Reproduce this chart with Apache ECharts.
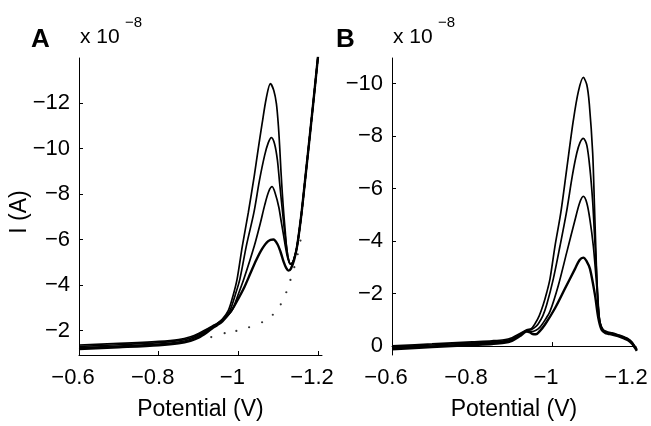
<!DOCTYPE html>
<html><head><meta charset="utf-8">
<script src="https://cdn.jsdelivr.net/npm/echarts@6/dist/echarts.min.js"></script>
<style>html,body{margin:0;padding:0;background:#fff}#c{width:651px;height:426px}</style>
</head><body><div id="c"></div>
<script>
// ---- tick values ----
const xTicks = [-0.6, -0.8, -1, -1.2];
const yTicksA = [-12, -10, -8, -6, -4, -2];
const yTicksB = [-10, -8, -6, -4, -2, 0];

// ---- Panel A (x 1e-8 A) ----
const aCurve1 = [[-0.6,-1.36],[-0.7,-1.43],[-0.8,-1.52],[-0.85,-1.6],[-0.88,-1.72],[-0.9,-1.86],[-0.92,-2.05],[-0.935,-2.2],[-0.946,-2.3],[-0.96,-2.5],[-0.975,-2.88],[-0.987,-3.55],[-0.997,-4.27],[-1.01,-5.71],[-1.025,-7.18],[-1.04,-8.8],[-1.05,-10.0],[-1.0596,-11.09],[-1.07,-12.2],[-1.0805,-12.85],[-1.089,-12.55],[-1.0956,-11.96],[-1.1005,-11.0],[-1.104,-10.0],[-1.107,-9.0],[-1.1105,-8.0],[-1.114,-7.14],[-1.1175,-6.4],[-1.1208,-5.71],[-1.1255,-5.15],[-1.131,-4.92],[-1.136,-4.98],[-1.14,-5.15],[-1.1475,-5.71],[-1.1585,-7.14],[-1.1675,-8.6],[-1.176,-10.0],[-1.188,-12.0],[-1.2,-14.05]];
const aCurve2 = [[-0.6,-1.30],[-0.7,-1.37],[-0.8,-1.46],[-0.85,-1.55],[-0.88,-1.66],[-0.9,-1.8],[-0.92,-2.0],[-0.935,-2.17],[-0.946,-2.29],[-0.962,-2.5],[-0.979,-2.88],[-0.992,-3.55],[-1.004,-4.27],[-1.02,-5.71],[-1.039,-7.18],[-1.053,-8.6],[-1.066,-9.7],[-1.075,-10.25],[-1.083,-10.48],[-1.091,-10.2],[-1.098,-9.5],[-1.103,-8.6],[-1.1075,-7.8],[-1.111,-7.2],[-1.1145,-6.6],[-1.118,-6.1],[-1.1215,-5.6],[-1.1255,-5.15],[-1.131,-4.92],[-1.136,-4.98],[-1.14,-5.15],[-1.1475,-5.71],[-1.1585,-7.14],[-1.1675,-8.6],[-1.176,-10.0],[-1.188,-12.0],[-1.2,-14.05]];
const aCurve3 = [[-0.6,-1.24],[-0.7,-1.31],[-0.8,-1.40],[-0.85,-1.49],[-0.88,-1.6],[-0.9,-1.74],[-0.92,-1.96],[-0.935,-2.14],[-0.946,-2.27],[-0.964,-2.5],[-0.984,-2.88],[-0.999,-3.55],[-1.014,-4.27],[-1.04,-5.71],[-1.055,-6.7],[-1.066,-7.5],[-1.076,-8.1],[-1.0848,-8.32],[-1.093,-8.0],[-1.1015,-7.43],[-1.108,-6.75],[-1.114,-6.14],[-1.1185,-5.65],[-1.1245,-5.15],[-1.131,-4.92],[-1.136,-4.98],[-1.14,-5.15],[-1.1475,-5.71],[-1.1585,-7.14],[-1.1675,-8.6],[-1.176,-10.0],[-1.188,-12.0],[-1.2,-14.05]];
const aCurve4 = [[-0.6,-1.18],[-0.7,-1.26],[-0.8,-1.35],[-0.85,-1.43],[-0.88,-1.54],[-0.9,-1.68],[-0.92,-1.9],[-0.935,-2.1],[-0.946,-2.22],[-0.96,-2.4],[-0.983,-2.88],[-1.0,-3.4],[-1.015,-3.9],[-1.03,-4.5],[-1.045,-5.1],[-1.06,-5.6],[-1.075,-5.93],[-1.088,-6.0],[-1.098,-5.8],[-1.106,-5.45],[-1.114,-5.0],[-1.12,-4.75],[-1.126,-4.63],[-1.132,-4.72],[-1.14,-5.1],[-1.1475,-5.71],[-1.1585,-7.14],[-1.1675,-8.6],[-1.176,-10.0],[-1.188,-12.0],[-1.2,-14.05]];
const aBlank = [[-0.932,-1.71],[-0.9656,-1.88],[-0.995,-1.98],[-1.027,-2.14],[-1.0596,-2.36],[-1.0865,-2.69],[-1.1065,-3.15],[-1.1204,-3.68],[-1.1308,-4.22],[-1.1405,-4.78],[-1.149,-5.35],[-1.156,-5.95]];

// ---- Panel B (x 1e-8 A) ----
const bCurve1 = [[-0.6,-0.01],[-0.7,-0.08],[-0.8,-0.16],[-0.85,-0.2],[-0.88,-0.24],[-0.9,-0.32],[-0.92,-0.48],[-0.937,-0.62],[-0.948,-0.66],[-0.9575,-0.85],[-0.968,-1.15],[-0.978,-1.57],[-0.987,-2.05],[-0.995,-2.56],[-1.0075,-3.81],[-1.022,-5.08],[-1.0367,-6.73],[-1.0533,-8.59],[-1.066,-9.7],[-1.0783,-10.23],[-1.087,-9.95],[-1.0933,-9.22],[-1.1017,-7.35],[-1.106,-5.4],[-1.11,-3.5],[-1.1125,-2.4],[-1.116,-1.4],[-1.12,-0.9],[-1.128,-0.62],[-1.14,-0.53],[-1.15,-0.5],[-1.16,-0.46],[-1.17,-0.41],[-1.18,-0.35],[-1.19,-0.28],[-1.2,-0.15],[-1.207,0.0],[-1.212,0.12]];
const bCurve2 = [[-0.6,0.04],[-0.7,-0.04],[-0.8,-0.12],[-0.85,-0.16],[-0.88,-0.2],[-0.9,-0.28],[-0.92,-0.45],[-0.937,-0.6],[-0.948,-0.62],[-0.96,-0.75],[-0.9658,-0.85],[-0.977,-1.15],[-0.9867,-1.57],[-1.0033,-2.56],[-1.02,-3.81],[-1.036,-5.08],[-1.051,-6.5],[-1.062,-7.35],[-1.07,-7.75],[-1.0783,-7.91],[-1.087,-7.65],[-1.095,-6.73],[-1.1017,-5.5],[-1.106,-4.3],[-1.11,-3.2],[-1.113,-2.3],[-1.1165,-1.4],[-1.12,-0.9],[-1.128,-0.6],[-1.14,-0.5],[-1.15,-0.48],[-1.16,-0.44],[-1.17,-0.39],[-1.18,-0.33],[-1.19,-0.26],[-1.2,-0.13],[-1.207,0.02],[-1.212,0.14]];
const bCurve3 = [[-0.6,0.08],[-0.7,0.0],[-0.8,-0.08],[-0.85,-0.12],[-0.88,-0.16],[-0.9,-0.24],[-0.92,-0.42],[-0.937,-0.58],[-0.949,-0.55],[-0.96,-0.6],[-0.97,-0.72],[-0.982,-0.98],[-0.995,-1.32],[-1.0158,-2.31],[-1.0367,-3.56],[-1.0575,-4.80],[-1.069,-5.45],[-1.0783,-5.70],[-1.087,-5.45],[-1.095,-4.80],[-1.1033,-3.81],[-1.1117,-2.31],[-1.1175,-1.15],[-1.122,-0.75],[-1.128,-0.58],[-1.14,-0.48],[-1.15,-0.46],[-1.16,-0.42],[-1.17,-0.37],[-1.18,-0.31],[-1.19,-0.24],[-1.2,-0.11],[-1.207,0.04],[-1.212,0.16]];
const bCurve4 = [[-0.6,0.12],[-0.7,0.04],[-0.8,-0.04],[-0.85,-0.08],[-0.88,-0.12],[-0.9,-0.2],[-0.92,-0.38],[-0.937,-0.55],[-0.945,-0.52],[-0.952,-0.46],[-0.96,-0.45],[-0.97,-0.58],[-0.9825,-0.82],[-1.0075,-1.44],[-1.0325,-2.19],[-1.0575,-2.94],[-1.069,-3.28],[-1.0783,-3.37],[-1.087,-3.22],[-1.095,-2.94],[-1.1075,-1.94],[-1.1158,-1.07],[-1.124,-0.62],[-1.133,-0.5],[-1.14,-0.47],[-1.15,-0.44],[-1.16,-0.4],[-1.17,-0.35],[-1.18,-0.29],[-1.19,-0.22],[-1.2,-0.09],[-1.207,0.06],[-1.212,0.18]];

const FONT = 'Liberation Sans, Arial, Helvetica, sans-serif';
const fmt = v => { const r = Math.round(v * 10) / 10; return r === 0 ? '0' : (r < 0 ? '\u2212' : '') + String(Math.abs(r)); };

function xAxisDef(grid) {
  return {
    type: 'value', gridIndex: grid, min: -1.21, max: -0.6, inverse: true,
    name: 'Potential (V)', nameLocation: 'middle', nameGap: 43,
    nameTextStyle: { fontFamily: FONT, fontSize: 23, color: '#000' },
    axisLine: { show: true, lineStyle: { color: '#000', width: 1 } },
    axisTick: { show: true, inside: true, length: 4, lineStyle: { color: '#000' }, customValues: xTicks },
    axisLabel: { show: true, customValues: xTicks, formatter: fmt, margin: 12, padding: [0, 12, 0, 0],
      fontFamily: FONT, fontSize: 22, color: '#000' },
    splitLine: { show: false }
  };
}
function yAxisDef(grid, min, max, ticks) {
  return {
    type: 'value', gridIndex: grid, min: min, max: max, inverse: true,
    axisLine: { show: true, lineStyle: { color: '#000', width: 1 } },
    axisTick: { show: true, inside: true, length: 4, lineStyle: { color: '#000' }, customValues: ticks },
    axisLabel: { show: true, customValues: ticks, formatter: fmt, margin: 9,
      fontFamily: FONT, fontSize: 22, color: '#000' },
    splitLine: { show: false }
  };
}
function line(data, xi, w) {
  return { type: 'line', data: data, xAxisIndex: xi, yAxisIndex: xi, showSymbol: false, symbol: 'none',
    smooth: 0.3, lineStyle: { color: '#000', width: w }, silent: true, z: 3 };
}

const chart = echarts.init(document.getElementById('c'), null, { renderer: 'canvas' });
chart.setOption({
  animation: false,
  backgroundColor: '#fff',
  grid: [
    { left: 79, top: 58, width: 243, height: 303 },
    { left: 392, top: 58, width: 244, height: 303 }
  ],
  xAxis: [xAxisDef(0), xAxisDef(1)],
  yAxis: [yAxisDef(0, -13.98, -0.92, yTicksA), yAxisDef(1, -10.97, 0.34, yTicksB)],
  series: [
    line(aCurve1, 0, 1.7), line(aCurve2, 0, 1.7), line(aCurve3, 0, 1.7), line(aCurve4, 0, 2.4),
    { type: 'scatter', data: aBlank, xAxisIndex: 0, yAxisIndex: 0, symbol: 'circle', symbolSize: 2.2,
      itemStyle: { color: '#000' }, silent: true },
    line(bCurve1, 1, 1.7), line(bCurve2, 1, 1.7), line(bCurve3, 1, 1.7), line(bCurve4, 1, 2.4)
  ],
  graphic: [
    { type: 'text', style: { x: 31, y: 40, text: 'A', font: 'bold 26px ' + FONT, fill: '#000', textVerticalAlign: 'middle' } },
    { type: 'text', style: { x: 80, y: 37, text: 'x 10', font: '21px ' + FONT, fill: '#000', textVerticalAlign: 'middle' } },
    { type: 'text', style: { x: 125, y: 23, text: '\u22128', font: '15px ' + FONT, fill: '#000', textVerticalAlign: 'middle' } },
    { type: 'text', style: { x: 336, y: 40, text: 'B', font: 'bold 26px ' + FONT, fill: '#000', textVerticalAlign: 'middle' } },
    { type: 'text', style: { x: 393, y: 37, text: 'x 10', font: '21px ' + FONT, fill: '#000', textVerticalAlign: 'middle' } },
    { type: 'text', style: { x: 438, y: 23, text: '\u22128', font: '15px ' + FONT, fill: '#000', textVerticalAlign: 'middle' } },
    { type: 'text', rotation: Math.PI / 2, x: 20, y: 212, style: { x: 0, y: 0, text: 'I (A)', font: '23px ' + FONT, fill: '#000', textAlign: 'center', textVerticalAlign: 'middle' } }
  ]
});
</script>
</body></html>
